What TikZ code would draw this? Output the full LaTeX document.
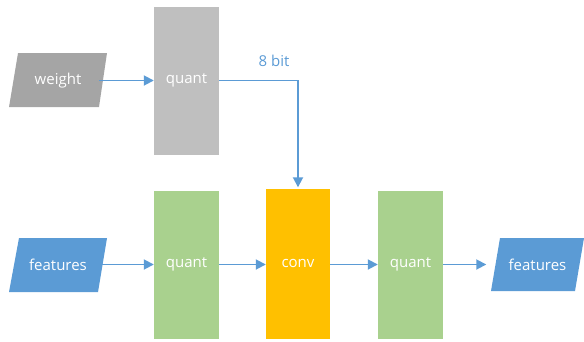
\documentclass[tikz,border=0pt]{standalone}
\usepackage{fontspec}
\setmainfont{Open Sans}
\usetikzlibrary{arrows.meta}
\definecolor{pgray}{HTML}{A5A5A5}
\definecolor{bgray}{HTML}{BFBFBF}
\definecolor{bgreen}{HTML}{A9D18E}
\definecolor{borange}{HTML}{FFC000}
\definecolor{bblue}{HTML}{5B9BD5}
\tikzset{
  box/.style={rectangle, minimum width=65pt, minimum height=148pt, inner sep=0pt, text=white, font=\fontsize{15}{17}\selectfont},
  lbl/.style={rectangle, minimum width=90pt, minimum height=54pt, inner sep=0pt, text=white, font=\fontsize{15}{17}\selectfont},
  arr/.style={draw=bblue, line width=1.8pt, -{Triangle[length=10pt,width=10pt]}},
}
\begin{document}
\begin{tikzpicture}[x=1pt,y=-1pt]
\useasboundingbox (0,0) rectangle (584,341);
% parallelogram backgrounds
\fill[pgray] (9,107) -- (99,107) -- (107,53) -- (18,53) -- cycle;
\node[lbl] (w) at (58,80.5) {weight};
\fill[bblue] (9,292) -- (98,292) -- (107,238) -- (19,238) -- cycle;
\node[lbl] (f1) at (58,264.5) {features};
\fill[bblue] (491,291) -- (575,291) -- (584,238) -- (500,238) -- cycle;
\node[lbl, minimum width=84pt] (f2) at (537.5,264.5) {features};
% boxes
\node[box, fill=bgray] (q0) at (186.5,80.5) {quant};
\node[box, fill=bgreen] (q1) at (186.5,264.5) {quant};
\node[box, fill=borange, minimum width=64pt, minimum height=150pt] (cv) at (298,263.5) {conv};
\node[box, fill=bgreen] (q2) at (410.5,264.5) {quant};
% arrows
\draw[arr] ([xshift=-4pt]w.east) -- (q0.west);
\draw[arr] ([xshift=-4pt]f1.east) -- (q1.west);
\draw[arr] (q1.east) -- (cv.west |- q1.east);
\draw[arr] (cv.east |- q2.west) -- (q2.west);
\draw[arr] (q2.east) -- ([xshift=-9pt]f2.west);
\draw[arr] (q0.east) -| ([yshift=1pt]cv.north);
\node[text=bblue, font=\fontsize{15}{17}\selectfont] (b) at (274,61) {8 bit};
\end{tikzpicture}
\end{document}
